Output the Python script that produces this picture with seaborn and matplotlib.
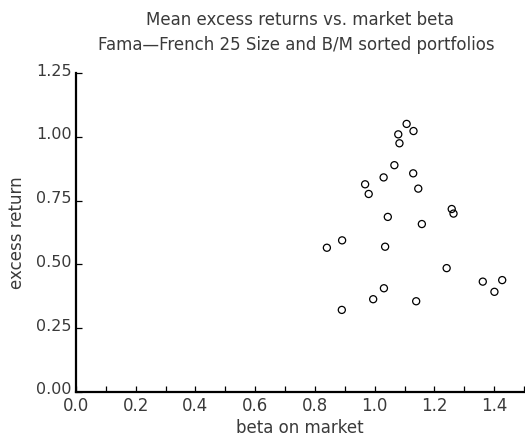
import matplotlib
matplotlib.use("Agg")
import matplotlib.pyplot as plt
import matplotlib.transforms as mtransforms
import seaborn as sns
import pandas as pd
from matplotlib.ticker import MultipleLocator, FormatStrFormatter

# Market betas and mean monthly excess returns of the 25 size / book-to-market portfolios
beta = [1.107, 1.130, 1.079, 1.083, 1.066, 1.129, 1.030, 0.968, 0.980, 1.146,
        1.258, 1.264, 1.044, 1.158, 0.891, 0.840, 1.035, 1.241, 1.362, 1.427,
        1.401, 1.031, 0.995, 1.139, 0.890]
excess_ret = [1.051, 1.023, 1.010, 0.975, 0.889, 0.857, 0.841, 0.814, 0.776, 0.797,
              0.717, 0.699, 0.686, 0.658, 0.594, 0.565, 0.569, 0.485, 0.432, 0.438,
              0.392, 0.406, 0.363, 0.355, 0.321]

df = pd.DataFrame({"beta": beta, "ret": excess_ret})

sns.set_style("ticks")
plt.rcParams["font.family"] = ["DejaVu Sans"]

text_color = "#3a3a3a"

fig = plt.figure(figsize=(5.25, 4.38), dpi=100)
ax = fig.add_axes([76 / 525, 46.3 / 438, 448 / 525, 318.5 / 438])

sns.scatterplot(data=df, x="beta", y="ret", ax=ax, marker="o", s=26,
                facecolor="none", edgecolor="black", linewidth=0.9)

ax.set_xlim(0, 1.5)
ax.set_ylim(0, 1.25)
ax.xaxis.set_major_locator(MultipleLocator(0.2))
ax.xaxis.set_minor_locator(MultipleLocator(0.1))
ax.yaxis.set_major_locator(MultipleLocator(0.25))
ax.xaxis.set_major_formatter(FormatStrFormatter("%.1f"))
ax.yaxis.set_major_formatter(FormatStrFormatter("%.2f"))

ax.tick_params(axis="both", which="both", direction="in", color="black",
               labelcolor=text_color, width=0.9)
ax.tick_params(axis="x", which="major", length=4, pad=3.5, labelsize=12)
ax.tick_params(axis="x", which="minor", length=4)
ax.tick_params(axis="y", which="major", length=4, pad=3, labelsize=11.5)

# raise the y tick labels slightly so the corner labels stay apart
lift = mtransforms.ScaledTranslation(0, 2.5 / 72, fig.dpi_scale_trans)
for lbl in ax.get_yticklabels():
    lbl.set_transform(lbl.get_transform() + lift)

for side in ("top", "right"):
    ax.spines[side].set_visible(False)
for side in ("left", "bottom"):
    ax.spines[side].set_linewidth(1.6)
    ax.spines[side].set_color("black")

ax.set_xlabel("beta on market", fontsize=12, color=text_color, labelpad=3.5)
ax.set_ylabel("excess return", fontsize=12, color=text_color, labelpad=7)

fig.text(0.572, 1 - 20 / 438, "Mean excess returns vs. market beta",
         ha="center", va="center", fontsize=12, color=text_color)
fig.text(0.565, 1 - 45 / 438, "Fama\u2014French 25 Size and B/M sorted portfolios",
         ha="center", va="center", fontsize=12, color=text_color)

fig.savefig("out.png", dpi=100)
